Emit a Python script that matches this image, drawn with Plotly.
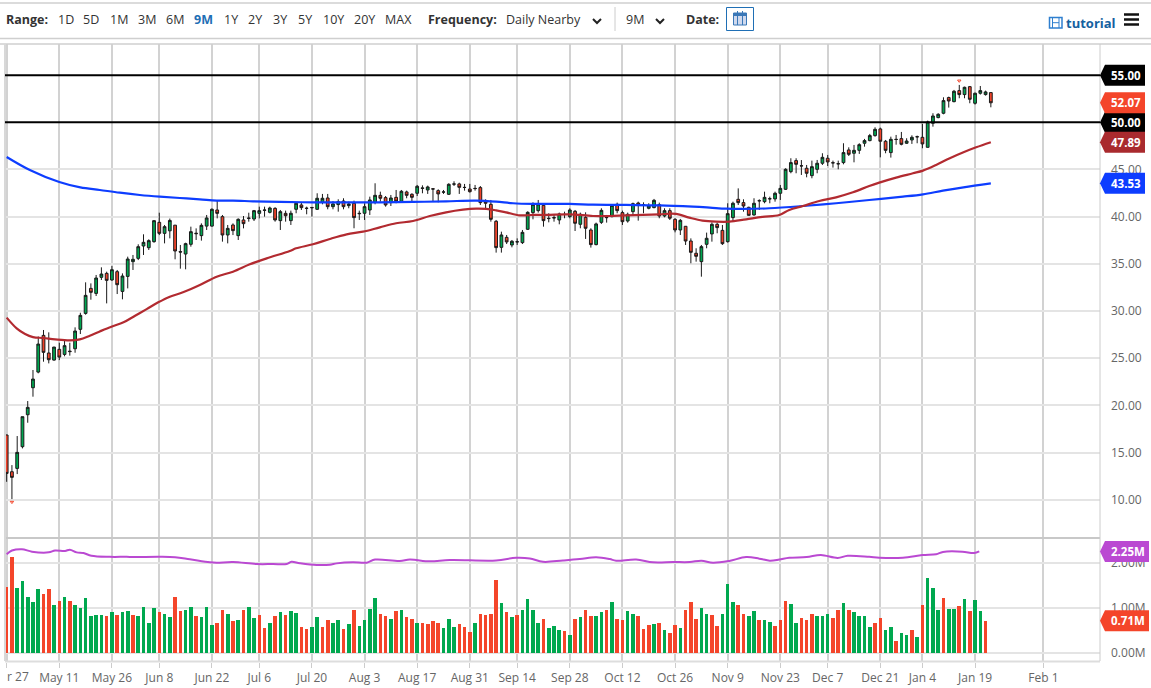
import plotly.graph_objects as go

W = 1151
H = 688

# Axis labels, the first one is cut by the page edge in the chart
first_tick_label = "r 27"
tick_idx = [0, 10, 20, 29, 39, 48, 58, 68, 78, 88, 97, 107, 117, 127, 137, 147, 156, 166, 174, 184, 197]
tick_labels = ["", "May 11", "May 26", "Jun 8", "Jun 22", "Jul 6", "Jul 20", "Aug 3", "Aug 17", "Aug 31", "Sep 14",
               "Sep 28", "Oct 12", "Oct 26", "Nov 9", "Nov 23", "Dec 7", "Dec 21", "Jan 4", "Jan 19", "Feb 1"]
price_ticks = [10, 15, 20, 25, 30, 35, 40, 45]
volume_ticks = [0, 1, 2]
volume_tick_labels = ["0.00M", "1.00M", "2.00M"]

# Daily candles
opens = [16.86, 12.97, 13.32, 15.62, 19.01, 21.87, 23.53, 27.42, 25.55, 24.8,
         25.94, 25.4, 25.75, 26.0, 28.06, 29.75, 32.4, 31.87, 33.57, 33.99,
         33.29, 34.17, 32.08, 33.67, 35.23, 35.58, 36.89, 36.71, 37.35, 39.4,
         38.23, 38.5, 39.1, 36.3, 36.04, 37.07, 38.25, 37.99, 39.0, 39.0,
         40.71, 40.0, 38.06, 39.12, 37.99, 39.65, 39.86, 39.75, 40.35, 40.71,
         40.46, 40.88, 39.58, 40.35, 39.58, 40.78, 41.24, 40.9, 40.98, 40.78,
         41.52, 41.98, 41.06, 41.28, 41.66, 41.17, 41.42, 40.36, 40.36, 40.71,
         41.52, 42.26, 42.02, 41.49, 42.05, 41.63, 42.62, 42.37, 42.48, 43.05,
         42.83, 42.95, 42.76, 42.6, 42.37, 43.47, 43.47, 43.11, 42.93, 43.0,
         43.08, 41.63, 41.31, 39.51, 36.75, 37.81, 37.0, 37.35, 37.25, 38.66,
         40.43, 40.64, 41.2, 39.83, 39.9, 39.65, 40.25, 40.0, 40.57, 39.19,
         39.93, 38.59, 37.04, 39.4, 39.93, 40.0, 41.31, 40.43, 39.54, 40.53,
         41.45, 41.27, 40.89, 40.96, 41.27, 40.07, 40.64, 39.72, 38.59, 38.98,
         37.42, 36.12, 35.23, 37.07, 38.17, 39.19, 38.55, 37.35, 39.9, 41.84,
         41.49, 40.99, 40.18, 41.7, 41.59, 41.91, 41.88, 42.48, 42.9, 44.77,
         45.94, 45.4, 45.13, 44.35, 45.02, 45.66, 46.19, 45.72, 45.62, 45.73,
         47.07, 46.72, 47.03, 47.78, 48.06, 48.59, 49.3, 47.99, 46.79, 48.2,
         48.27, 47.78, 48.13, 48.48, 48.41, 47.35, 49.9, 50.5, 50.96, 52.62,
         52.19, 53.36, 52.94, 53.78, 52.02, 53.08, 52.94, 53.15]
highs = [16.9, 13.67, 16.75, 18.8, 20.46, 23.75, 27.3, 27.99, 27.74, 26.2,
         26.64, 26.86, 26.64, 28.27, 29.82, 33.04, 32.93, 33.82, 34.63, 34.17,
         34.77, 34.35, 33.99, 35.76, 35.94, 37.07, 38.13, 37.6, 39.6, 40.42,
         39.12, 39.8, 39.12, 37.0, 37.24, 38.94, 38.76, 39.29, 40.18, 40.88,
         41.66, 40.18, 39.12, 39.29, 39.82, 40.07, 40.42, 40.71, 41.06, 41.06,
         41.06, 41.0, 40.71, 40.64, 40.64, 41.49, 41.49, 41.06, 41.0, 42.48,
         42.41, 42.41, 41.66, 41.84, 41.95, 41.59, 41.7, 40.64, 41.42, 42.12,
         43.54, 42.65, 42.19, 42.3, 42.83, 42.83, 42.76, 42.48, 43.36, 43.32,
         43.29, 43.0, 42.9, 42.83, 43.54, 43.75, 43.6, 43.47, 43.47, 43.36,
         43.25, 41.84, 41.77, 39.65, 38.41, 38.06, 37.53, 37.7, 38.59, 40.57,
         41.52, 41.77, 41.42, 40.36, 40.18, 40.43, 40.53, 40.89, 40.71, 40.43,
         40.46, 38.77, 39.37, 40.89, 40.18, 41.31, 41.49, 40.64, 40.43, 41.49,
         41.59, 41.52, 41.42, 41.88, 41.49, 40.89, 40.89, 39.83, 39.76, 39.01,
         37.7, 36.65, 37.0, 38.31, 39.4, 39.37, 39.12, 41.42, 41.59, 43.0,
         41.84, 41.06, 41.95, 41.84, 42.65, 42.12, 42.65, 43.36, 45.13, 46.19,
         46.19, 46.0, 45.48, 45.94, 46.01, 46.72, 46.54, 45.94, 45.94, 47.78,
         47.35, 47.6, 47.78, 48.24, 48.77, 49.47, 49.44, 48.13, 48.48, 48.66,
         48.98, 48.31, 48.62, 48.59, 49.83, 50.18, 50.96, 50.96, 52.65, 52.72,
         53.43, 53.96, 53.78, 53.85, 53.15, 53.85, 53.36, 53.15]
lows = [11.9, 10.07, 12.72, 15.44, 18.16, 20.92, 23.4, 24.63, 24.45, 24.74,
        24.8, 25.2, 25.27, 25.58, 27.56, 29.61, 31.2, 31.59, 33.29, 30.81,
        33.2, 31.8, 31.24, 32.4, 34.35, 35.4, 35.94, 36.47, 37.24, 38.05,
        37.17, 37.7, 35.48, 34.49, 34.42, 36.82, 37.53, 37.46, 38.59, 38.94,
        39.82, 37.35, 37.17, 38.05, 37.53, 38.76, 39.47, 39.54, 39.82, 40.0,
        40.35, 39.47, 38.59, 39.47, 39.12, 40.36, 40.71, 40.25, 40.0, 40.71,
        41.31, 40.78, 40.78, 40.53, 40.78, 40.89, 38.77, 39.65, 39.65, 40.18,
        41.31, 41.59, 41.06, 41.13, 41.42, 41.56, 41.95, 41.66, 42.19, 42.48,
        42.41, 41.59, 41.52, 42.41, 42.3, 43.25, 42.41, 42.76, 42.55, 42.76,
        41.24, 40.71, 39.47, 36.19, 36.19, 37.1, 36.75, 37.0, 37.1, 38.59,
        39.72, 40.43, 38.94, 39.4, 39.47, 39.19, 39.83, 39.83, 38.48, 38.77,
        37.64, 36.72, 36.96, 39.23, 39.37, 39.93, 40.36, 39.12, 39.37, 40.18,
        39.58, 40.36, 40.78, 40.89, 39.83, 39.93, 39.65, 38.34, 38.06, 37.0,
        35.06, 35.23, 33.64, 36.65, 37.35, 38.24, 37.0, 37.25, 39.47, 41.24,
        40.53, 40.11, 40.11, 40.71, 41.42, 41.42, 41.59, 41.77, 42.83, 44.6,
        44.6, 44.42, 44.17, 44.07, 44.6, 45.48, 45.37, 45.2, 45.02, 45.55,
        46.43, 45.76, 46.65, 47.42, 47.99, 48.48, 46.29, 46.72, 46.26, 47.63,
        47.56, 47.71, 47.71, 47.78, 47.25, 47.32, 49.54, 50.43, 50.85, 51.56,
        52.12, 52.55, 52.55, 52.02, 51.88, 52.94, 52.83, 51.59]
closes = [12.79, 12.37, 15.02, 18.8, 19.79, 22.79, 26.5, 25.62, 24.84, 26.18,
          25.12, 26.33, 25.7, 27.88, 29.54, 31.66, 31.98, 33.5, 33.92, 33.25,
          34.38, 32.79, 33.71, 35.51, 35.48, 36.82, 37.28, 37.46, 39.58, 38.23,
          38.94, 39.6, 36.36, 36.25, 37.14, 38.41, 38.2, 39.08, 39.86, 40.78,
          40.35, 38.06, 38.76, 38.52, 39.72, 39.26, 39.82, 40.64, 40.64, 40.68,
          40.92, 39.65, 40.53, 40.1, 40.36, 41.42, 40.96, 40.88, 40.95, 41.95,
          41.95, 41.06, 41.35, 41.59, 41.06, 41.35, 39.9, 40.32, 41.06, 41.77,
          42.26, 41.95, 41.24, 41.98, 41.63, 42.69, 42.26, 42.05, 43.22, 43.0,
          43.15, 42.93, 42.41, 42.62, 43.43, 43.45, 43.11, 43.09, 42.65, 42.98,
          41.49, 41.42, 39.72, 36.72, 38.06, 37.32, 37.39, 37.33, 38.34, 40.46,
          41.31, 41.35, 39.58, 39.8, 39.87, 40.29, 40.23, 40.71, 39.3, 40.25,
          38.77, 37.04, 39.23, 40.67, 39.9, 41.2, 40.64, 39.47, 40.25, 41.38,
          41.27, 41.25, 41.13, 41.73, 40.07, 40.64, 39.83, 38.59, 39.61, 37.42,
          36.22, 35.8, 36.82, 37.71, 39.19, 38.84, 37.14, 40.32, 41.42, 41.49,
          41.13, 40.14, 41.42, 41.68, 42.05, 41.89, 42.48, 43.0, 45.02, 45.73,
          45.55, 45.38, 44.6, 45.3, 45.66, 46.29, 45.8, 45.7, 45.6, 46.79,
          46.61, 47.03, 47.63, 48.06, 48.59, 49.26, 47.99, 47.03, 48.2, 48.18,
          47.67, 48.02, 48.41, 48.46, 47.71, 50.04, 50.67, 50.85, 52.3, 52.26,
          53.29, 52.94, 53.71, 52.44, 53.08, 53.36, 53.22, 52.07]

# Volume in millions, r = down bar, g = up bar
volumes = [1.45, 2.13, 1.44, 1.6, 1.24, 1.13, 1.41, 1.31, 1.41, 1.06,
           1.16, 1.23, 1.14, 1.07, 0.99, 1.22, 0.82, 0.84, 0.84, 0.81,
           0.9, 0.84, 0.9, 0.93, 0.84, 0.81, 1.01, 0.65, 0.99, 0.91,
           0.86, 0.8, 1.24, 0.93, 0.96, 1.01, 0.82, 0.785, 1.01, 0.61,
           0.65, 0.94, 0.86, 0.7, 0.73, 0.94, 1.01, 0.78, 0.83, 0.56,
           0.67, 0.81, 0.9, 0.84, 0.93, 0.88, 0.58, 0.53, 0.57, 0.785,
           0.57, 0.73, 0.65, 0.73, 0.53, 0.64, 0.95, 0.6, 0.72, 0.97,
           1.22, 0.85, 0.81, 0.755, 0.92, 0.95, 0.79, 0.75, 0.67, 0.65,
           0.63, 0.7, 0.65, 0.56, 0.76, 0.58, 0.63, 0.57, 0.47, 0.65,
           0.85, 0.83, 0.87, 1.61, 1.1, 0.9, 0.8, 0.84, 0.95, 1.19,
           0.96, 0.65, 0.75, 0.54, 0.585, 0.51, 0.48, 0.4, 0.75, 0.79,
           0.94, 0.81, 0.815, 0.91, 0.94, 1.13, 0.76, 0.73, 0.92, 0.85,
           0.81, 0.52, 0.61, 0.63, 0.65, 0.5, 0.44, 0.61, 0.56, 0.94,
           1.12, 0.74, 1.0, 0.87, 0.84, 0.585, 0.87, 1.52, 1.12, 1.07,
           0.85, 0.81, 0.93, 0.73, 0.73, 0.68, 0.6, 0.73, 1.14, 1.08,
           0.67, 0.78, 0.72, 0.85, 0.81, 0.81, 0.87, 0.77, 0.94, 1.1,
           0.94, 0.9, 0.82, 0.81, 0.58, 0.67, 0.78, 0.5, 0.57, 0.26,
           0.43, 0.385, 0.5, 0.34, 1.06, 1.65, 1.44, 0.94, 1.21, 0.97,
           0.97, 1.03, 1.19, 0.93, 1.17, 0.93, 0.71]
volume_dirs = ("rrgggggrrg" "rgrggggggr" "grggrggggr" "ggrrggrggg" "rrgrgrggrr"
               "grgrggrrgg" "rrggrgrggg" "grrgrgrrgr" "rrrgggrrrg" "rrrrgrgrgg"
               "ggrgggrgrg" "rrggrgrrgg" "rrrgrgrrgr" "rrggrrgggr" "rggrggrrrg"
               "grrrgggrrg" "rggggrrggr" "ggrgrgggrg" "grgrggr")

# Moving averages, sampled along the lines
ma_red_idx = [0, 1.9, 3.5, 5, 7, 9.2, 12, 13.9, 15.8, 17.7, 19.9, 22.2, 24.4, 26.6, 28.8, 31, 33.5, 36.7, 39.9, 43, 46.2,
              49.4, 53.8, 55, 58.2, 61.4, 64.6, 67.7, 70.9, 74, 77.2, 80.4, 83.5, 86.7, 89.2, 91.1, 93, 94.9, 97.5, 100,
              102.5, 107, 111.4, 114.6, 117.7, 120.9, 124, 127.2, 129.7, 132.2, 134.8, 137.3, 140.5, 143.6, 146.8, 148.7,
              151.3, 154.4, 157.6, 160.8, 163.9, 165.8, 169, 172.2, 174.1, 176.6, 179.2, 181.8, 184.2, 187]
ma_red_val = [29.3, 28.16, 27.56, 27.24, 27.14, 27.0, 26.89, 27.0, 27.39, 27.84, 28.34, 28.8, 29.5, 30.2, 30.92, 31.52,
              31.98, 32.76, 33.64, 34.17, 34.95, 35.58, 36.36, 36.65, 37.07, 37.64, 38.13, 38.41, 38.87, 39.3, 39.54,
              40.07, 40.46, 40.74, 40.85, 40.82, 40.67, 40.46, 40.14, 40.18, 40.18, 40.25, 40.07, 40.07, 40.14, 40.18,
              40.25, 40.29, 39.9, 39.58, 39.47, 39.47, 39.72, 39.97, 40.18, 40.71, 41.13, 41.66, 42.05, 42.58, 43.25,
              43.61, 44.14, 44.6, 44.88, 45.48, 46.19, 46.82, 47.35, 47.89]
ma_blue_idx = [0, 4.4, 10, 14, 17.7, 21.5, 25.3, 29.1, 32.9, 36.7, 39.9, 43, 46.8, 51.9, 58.2, 64.6, 70.9, 77.2, 83.5, 89.2,
               93, 96.2, 100, 107, 111.4, 117.7, 124, 130.4, 133.6, 136.7, 139.9, 144.9, 151.3, 157.6, 163.9, 170.3, 174.1,
               177.9, 181.8, 187]
ma_blue_val = [46.33, 44.95, 43.67, 43.1, 42.83, 42.54, 42.3, 42.12, 41.98, 41.84, 41.7, 41.7, 41.63, 41.56, 41.52, 41.52,
               41.52, 41.56, 41.63, 41.7, 41.59, 41.42, 41.35, 41.35, 41.27, 41.24, 41.2, 41.06, 40.96, 40.85, 40.82, 40.89,
               41.13, 41.42, 41.77, 42.12, 42.37, 42.76, 43.11, 43.53]
vol_avg_idx = [0, 1, 2.9, 4.8, 8, 9.2, 11.1, 12, 13.3, 14.6, 16.1, 19.6, 22.8, 24.1, 29.1, 32, 34.8, 38.6, 39.9, 43, 47.5,
               50.6, 53.2, 54.1, 55.7, 58.9, 61.4, 62.7, 65.8, 68.4, 70, 74.7, 76.6, 80.4, 84.2, 93, 96.8, 99.4, 101.9,
               105.7, 108.9, 112, 114.6, 115.8, 119.6, 122.8, 126.6, 129.8, 132, 134.2, 137.3, 140.5, 143, 145, 146.8,
               148.7, 152, 154.7, 157.9, 159.8, 163.9, 165.8, 170.3, 174, 176.6, 177.9, 181.6, 183.8, 184.8]
vol_avg_val = [2.19, 2.27, 2.3, 2.245, 2.23, 2.27, 2.26, 2.29, 2.23, 2.215, 2.155, 2.13, 2.13, 2.125, 2.13, 2.12, 2.075,
               2.01, 2.0, 2.015, 1.97, 1.97, 1.97, 2.02, 1.99, 1.95, 1.955, 1.985, 2.01, 2.0, 2.07, 2.037, 2.07, 2.03, 2.06,
               2.05, 2.11, 2.095, 2.02, 2.05, 2.08, 2.12, 2.08, 2.045, 2.07, 2.01, 2.015, 2.015, 2.045, 2.0, 2.04, 2.125,
               2.09, 2.045, 2.07, 2.11, 2.125, 2.17, 2.105, 2.155, 2.13, 2.11, 2.11, 2.17, 2.19, 2.24, 2.245, 2.215, 2.25]

# Little red high / low flags
flag_idx = [1, 181]
flag_val = [9.75, 54.4]

# Horizontal levels and the price tags on the right
levels = [55, 50]
main_tags = [(55.0, "55.00", "#000000"), (50.0, "50.00", "#000000"), (52.07, "52.07", "#f4452a"),
             (47.89, "47.89", "#a92a2e"), (43.53, "43.53", "#0d3dff")]
volume_tags = [(2.25, "2.25M", "#ba49d2"), (0.71, "0.71M", "#f4452a")]

# Toolbar text
range_buttons = [("1D", 57), ("5D", 82), ("1M", 109), ("3M", 137), ("6M", 165), ("9M", 193), ("1Y", 223), ("2Y", 247),
                 ("3Y", 272), ("5Y", 297), ("10Y", 322), ("20Y", 353), ("MAX", 384)]


# helpers, pixels of the page to paper coordinates
def px(x):
    return x / W


def py(y):
    return 1 - y / H


FONT = "Open Sans"
GREEN = "#00a84f"
RED = "#f4452a"

fig = go.Figure()

fig.add_trace(go.Candlestick(
    x=list(range(len(opens))), open=opens, high=highs, low=lows, close=closes,
    increasing=dict(line=dict(color="#1a1a1a", width=1), fillcolor="#00a651"),
    decreasing=dict(line=dict(color="#1a1a1a", width=1), fillcolor="#f0432a"),
    whiskerwidth=0, showlegend=False, xaxis="x", yaxis="y"))
fig.add_trace(go.Scatter(x=ma_blue_idx, y=ma_blue_val, mode="lines", line=dict(color="#0d3dff", width=2.2, shape="spline"),
                         showlegend=False))
fig.add_trace(go.Scatter(x=ma_red_idx, y=ma_red_val, mode="lines", line=dict(color="#b22a30", width=2.2, shape="spline"),
                         showlegend=False))
fig.add_trace(go.Scatter(x=flag_idx, y=flag_val, mode="markers", showlegend=False,
                         marker=dict(symbol="triangle-down-open", size=3, color="#f4452a", line=dict(width=1))))

fig.add_trace(go.Bar(x=list(range(len(volumes))), y=volumes, width=0.68,
                     marker=dict(color=[GREEN if d == "g" else RED for d in volume_dirs], line=dict(width=0)),
                     showlegend=False, xaxis="x2", yaxis="y2"))
fig.add_trace(go.Scatter(x=vol_avg_idx, y=vol_avg_val, mode="lines", line=dict(color="#ba49d2", width=2, shape="spline"),
                         showlegend=False, xaxis="x2", yaxis="y2"))

shapes = []
annotations = []


def hline(y, x0=0, x1=W, color="#cccccc", width=1):
    shapes.append(dict(type="line", xref="paper", yref="paper", x0=px(x0), x1=px(x1), y0=py(y), y1=py(y),
                       line=dict(color=color, width=width)))


def vline(x, y0, y1, color="#cccccc", width=1):
    shapes.append(dict(type="line", xref="paper", yref="paper", x0=px(x), x1=px(x), y0=py(y0), y1=py(y1),
                       line=dict(color=color, width=width)))


def label(text, x, y=19, size=12.5, color="#333333", bold=False):
    annotations.append(dict(text="<b>%s</b>" % text if bold else text, xref="paper", yref="paper", x=px(x), y=py(y),
                            xanchor="left", yanchor="middle", showarrow=False, borderpad=0,
                            font=dict(family=FONT, size=size, color=color)))


def tag(value, text, color, yref, right):
    # the pointed label: tip on the axis line, body to the right
    shapes.append(dict(type="path", xref="paper", yref=yref, ysizemode="pixel", yanchor=value,
                       path="M %f,0 L %f,10.5 L %f,10.5 L %f,-10.5 L %f,-10.5 Z" % (
                           px(1100), px(1105), px(right), px(right), px(1105)),
                       fillcolor=color, line=dict(width=0)))
    annotations.append(dict(text="<b>%s</b>" % text, xref="paper", yref=yref, x=px(1110), y=value, xanchor="left",
                            yanchor="middle", showarrow=False, borderpad=0,
                            font=dict(family=FONT, size=11.5, color="#ffffff")))


# frame and header lines
hline(3, color="#cfcfcf", width=1.5)
hline(38.5, color="#cfcfcf", width=1.5)
hline(44, color="#cfcfcf", width=1.5)
hline(538, 5, 1100, color="#c8c8c8", width=2)
hline(661.5, 5, 1100, color="#dddddd", width=2)
vline(5, 44, 661, color="#d8d8d8", width=2)
vline(1100, 44, 661, color="#cccccc", width=1)

# 55 and 50 levels
for lv in levels:
    shapes.append(dict(type="line", xref="paper", yref="y", x0=px(5), x1=px(1100), y0=lv, y1=lv,
                       line=dict(color="#000000", width=2)))

for v, t, c in main_tags:
    tag(v, t, c, "y", 1145)
for v, t, c in volume_tags:
    tag(v, t, c, "y2", 1149)

# toolbar
label("Range:", 5, bold=True)
for t, x in range_buttons:
    if t == "9M":
        label(t, x, color="#1f6fb5", bold=True)
    else:
        label(t, x)
label("Frequency:", 427, bold=True)
label("Daily Nearby", 505)
label("9M", 625)
label("Date:", 685, bold=True)
label("tutorial", 1065, y=23, size=13, color="#15619f", bold=True)
label(first_tick_label, 5.5, y=676, size=12, color="#666666")

for cx in [597, 660]:
    shapes.append(dict(type="path", xref="paper", yref="paper",
                       path="M %f,%f L %f,%f L %f,%f" % (px(cx - 4), py(19), px(cx), py(23), px(cx + 4), py(19)),
                       line=dict(color="#222222", width=2)))
vline(615, 7, 31, color="#cccccc", width=1)

# calendar button
shapes.append(dict(type="rect", xref="paper", yref="paper", x0=px(726.5), x1=px(753.5), y0=py(7.5), y1=py(30.5),
                   line=dict(color="#1f6fb5", width=1), fillcolor="#ffffff"))
shapes.append(dict(type="rect", xref="paper", yref="paper", x0=px(733.5), x1=px(746.5), y0=py(13), y1=py(25),
                   line=dict(color="#3a78b8", width=1), fillcolor="#cfd9ee"))
shapes.append(dict(type="rect", xref="paper", yref="paper", x0=px(733.5), x1=px(746.5), y0=py(13), y1=py(16),
                   line=dict(width=0), fillcolor="#3a78b8"))
for x in [737.5, 742.5]:
    vline(x, 11, 25, color="#3a78b8", width=1)

# film icon next to tutorial
shapes.append(dict(type="rect", xref="paper", yref="paper", x0=px(1049.5), x1=px(1062), y0=py(17.5), y1=py(28),
                   line=dict(color="#2f7fcf", width=1.5), fillcolor="#ffffff"))
for x in [1052.5, 1059]:
    vline(x, 17.5, 28, color="#2f7fcf", width=1)
hline(22.7, 1052.5, 1059, color="#2f7fcf", width=1)

# menu icon
for y in [14.5, 19.5, 24.5]:
    hline(y, 1124, 1139, color="#111111", width=2.5)

x_range = [-0.317, 207.74]
dom_x = [px(5), px(1100)]
axis_font = dict(family=FONT, size=12, color="#666666")

fig.update_layout(
    width=W, height=H, margin=dict(l=0, r=0, t=0, b=0), paper_bgcolor="#ffffff", plot_bgcolor="#ffffff",
    showlegend=False, bargap=0, boxgap=0.25, shapes=shapes, annotations=annotations,
    xaxis=dict(domain=dom_x, range=x_range, anchor="y", rangeslider=dict(visible=False), showticklabels=False,
               tickmode="array", tickvals=tick_idx, showgrid=True, gridcolor="#d2d2d2", gridwidth=1.5, zeroline=False,
               showline=False, ticks=""),
    yaxis=dict(domain=[py(537), py(44)], range=[6.05, 58.3], side="right", anchor="x", tickmode="array",
               tickvals=price_ticks, tickformat=".2f", tickfont=axis_font, showgrid=True, gridcolor="#e4e4e4",
               gridwidth=2, zeroline=False, showline=False, ticks="", ticklabelstandoff=10),
    xaxis2=dict(domain=dom_x, range=x_range, anchor="y2", tickmode="array", tickvals=tick_idx, ticktext=tick_labels,
                tickfont=axis_font, showgrid=True, gridcolor="#d2d2d2", gridwidth=1.5, zeroline=False, showline=False,
                ticks="outside", ticklen=5, tickcolor="#cccccc", tickangle=0),
    yaxis2=dict(domain=[py(661.7), py(538)], range=[-0.2, 2.549], side="right", anchor="x2", tickmode="array",
                tickvals=volume_ticks, ticktext=volume_tick_labels, tickfont=axis_font, showgrid=True,
                gridcolor="#e4e4e4", gridwidth=2, zeroline=False, showline=False, ticks="", ticklabelstandoff=10),
)

fig.write_html("out.html", config=dict(displayModeBar=False),
               post_script="document.body.style.margin='0';document.body.style.overflow='hidden';")
